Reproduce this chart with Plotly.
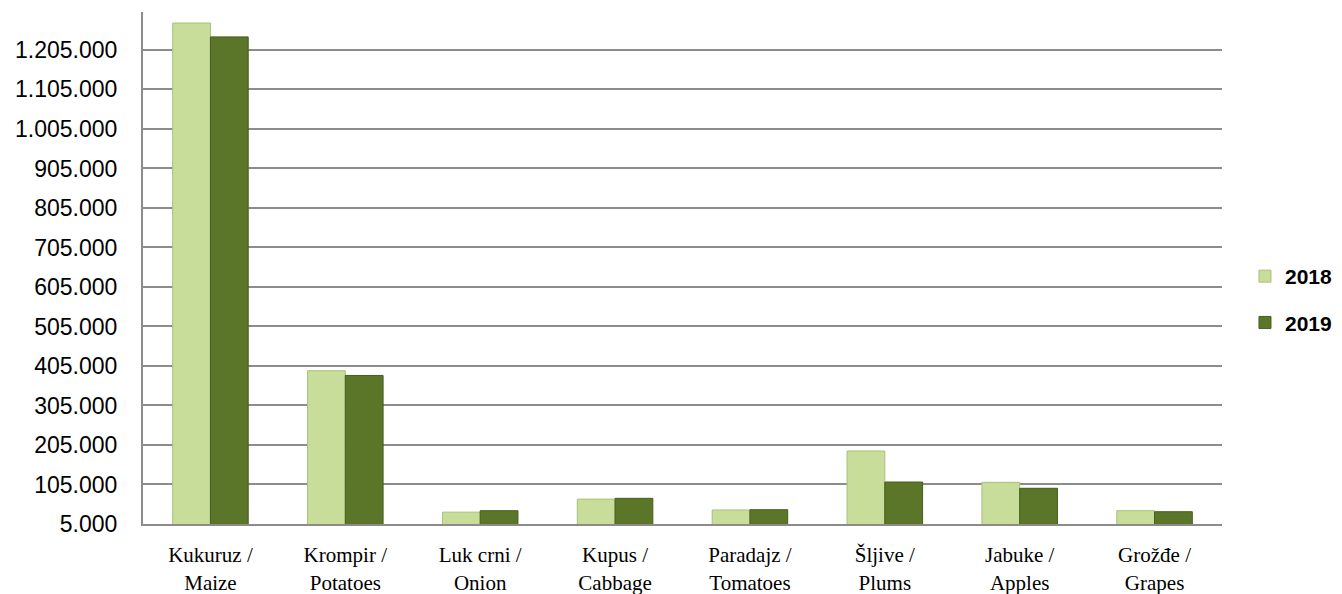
import plotly.graph_objects as go

categories = ["Kukuruz /<br>Maize", "Krompir /<br>Potatoes", "Luk crni /<br>Onion",
              "Kupus /<br>Cabbage", "Paradajz /<br>Tomatoes", "Šljive /<br>Plums",
              "Jabuke /<br>Apples", "Grožđe /<br>Grapes"]
values_2018 = [1273000, 393000, 35000, 68000, 40500, 189800, 110500, 38700]
values_2019 = [1238000, 381000, 38700, 70000, 41200, 111300, 95400, 36100]
tick_values = [5000 + 100000 * i for i in range(13)]
tick_labels = ["{:,}".format(v).replace(",", ".") for v in tick_values]

fig = go.Figure()
fig.add_trace(go.Bar(name="2018", x=categories, y=values_2018, legendgroup="a",
                     marker=dict(color="#c8dd9a", line=dict(color="#a9bf7c", width=1))))
fig.add_trace(go.Bar(name="2019", x=categories, y=values_2019, legendgroup="b",
                     marker=dict(color="#5b7628", line=dict(color="#465e1c", width=1))))

fig.update_layout(
    width=1326, height=586,
    margin=dict(l=135, r=112, t=4, b=70, autoexpand=False),
    plot_bgcolor="white", paper_bgcolor="white",
    barmode="group", bargap=0.44, bargroupgap=0,
    font=dict(family="Liberation Sans", size=20, color="black"),
    legend=dict(x=1.0213, xanchor="left", y=0.4385, yanchor="middle",
                font=dict(family="Liberation Sans", size=21, color="black", weight="bold"),
                itemwidth=30, tracegroupgap=16),
    showlegend=True,
)
fig.update_yaxes(range=[5000, 1301000], tickvals=tick_values, ticktext=tick_labels,
                 showgrid=True, gridcolor="#8c8c8c", gridwidth=1.5,
                 showline=True, linecolor="#8c8c8c", linewidth=2,
                 ticks="", ticklabelstandoff=19, zeroline=False,
                 tickfont=dict(family="Liberation Sans", size=23))
fig.update_xaxes(showline=True, linecolor="#8c8c8c", linewidth=2, ticks="",
                 ticklabelstandoff=11,
                 tickfont=dict(family="Liberation Serif", size=21))
fig.write_html("out.html")
